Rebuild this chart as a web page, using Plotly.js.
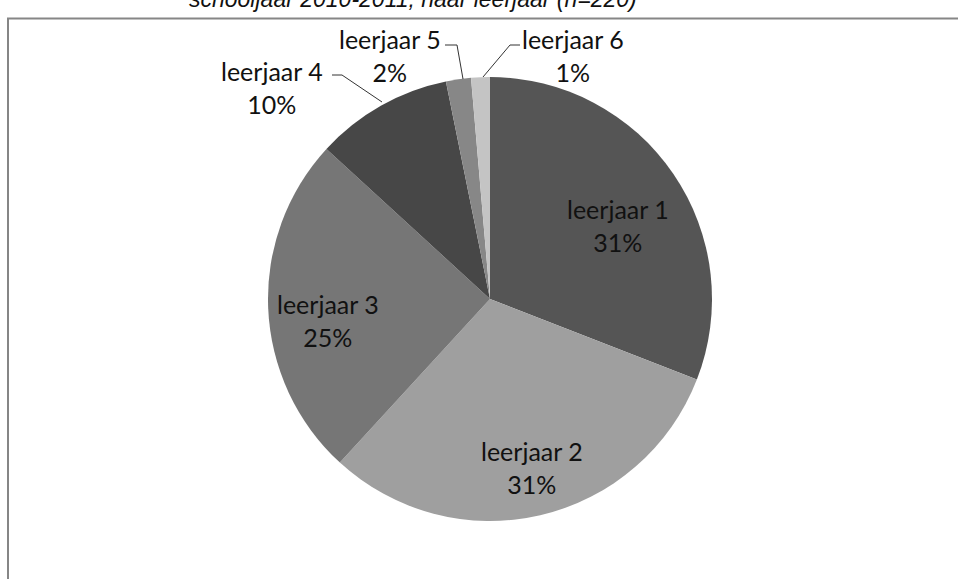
<!DOCTYPE html>
<html>
<head>
<meta charset="utf-8">
<script src="https://cdn.plot.ly/plotly-3.0.1.min.js"></script>
<style>
  html, body { margin: 0; padding: 0; background: #ffffff; }
  #chart { width: 958px; height: 579px; }
</style>
</head>
<body>
<div id="chart"></div>
<script>
// ---- data ----
const categories = ["leerjaar 1", "leerjaar 2", "leerjaar 3", "leerjaar 4", "leerjaar 5", "leerjaar 6"];
const counts = [68, 68, 55, 22, 4, 3];
const sliceColors = ["#555555", "#9f9f9f", "#767676", "#474747", "#878787", "#c4c4c4"];
const titleText = "schooljaar 2010-2011, naar leerjaar (n=220)";

// ---- layout geometry (pixels) ----
const W = 958, H = 579;
const M = { l: 268, r: 246, t: 77, b: 58 };
const PW = W - M.l - M.r, PH = H - M.t - M.b;
const px = x => (x - M.l) / PW;
const py = y => (H - M.b - y) / PH;

const total = counts.reduce((a, b) => a + b, 0);
const pct = counts.map(v => Math.round(v / total * 100) + "%");

// label centre positions in pixels (layout only)
const labelPos = [[618, 225], [532, 467], [328, 320], [272, 88], [390, 56], [573, 56]];

const labelFont = { family: "Lato, 'Open Sans', sans-serif", size: 25, color: "#111111" };

const annotations = categories.map((c, i) => ({
  text: c + "<br>" + pct[i],
  xref: "paper", yref: "paper",
  x: px(labelPos[i][0]), y: py(labelPos[i][1]),
  xanchor: "center", yanchor: "middle",
  showarrow: false,
  font: labelFont
}));

annotations.push({
  text: "<i>" + titleText + "</i>",
  xref: "paper", yref: "paper",
  x: px(413), y: py(14),
  xanchor: "center", yanchor: "bottom",
  showarrow: false,
  font: { family: "'Liberation Sans', Arial, sans-serif", size: 23, color: "#111111" }
});

const lineStyle = { color: "#333333", width: 1 };
function pathP(points) {
  return points.map((p, i) => (i ? "L" : "M") + px(p[0]) + "," + py(p[1])).join(" ");
}
const shapes = [
  // frame
  { type: "line", xref: "paper", yref: "paper", x0: px(7), x1: px(960), y0: py(18.5), y1: py(18.5),
    line: { color: "#868686", width: 2 } },
  { type: "line", xref: "paper", yref: "paper", x0: px(8), x1: px(8), y0: py(18), y1: py(585),
    line: { color: "#868686", width: 2 } },
  // leader lines
  { type: "path", xref: "paper", yref: "paper", path: pathP([[332, 75], [342, 75], [382, 102]]), line: lineStyle },
  { type: "path", xref: "paper", yref: "paper", path: pathP([[445, 45], [457, 45], [463, 79]]), line: lineStyle },
  { type: "path", xref: "paper", yref: "paper", path: pathP([[520, 45], [510, 45], [483, 77]]), line: lineStyle }
];

const trace = {
  type: "pie",
  labels: categories,
  values: counts,
  sort: false,
  direction: "clockwise",
  rotation: 0,
  marker: { colors: sliceColors, line: { width: 0 } },
  textinfo: "none",
  hoverinfo: "label+percent",
  showlegend: false
};

const layout = {
  width: W, height: H,
  margin: M,
  paper_bgcolor: "#ffffff",
  plot_bgcolor: "#ffffff",
  showlegend: false,
  annotations: annotations,
  shapes: shapes
};

Plotly.newPlot("chart", [trace], layout, { displayModeBar: false, staticPlot: true });
</script>
</body>
</html>
